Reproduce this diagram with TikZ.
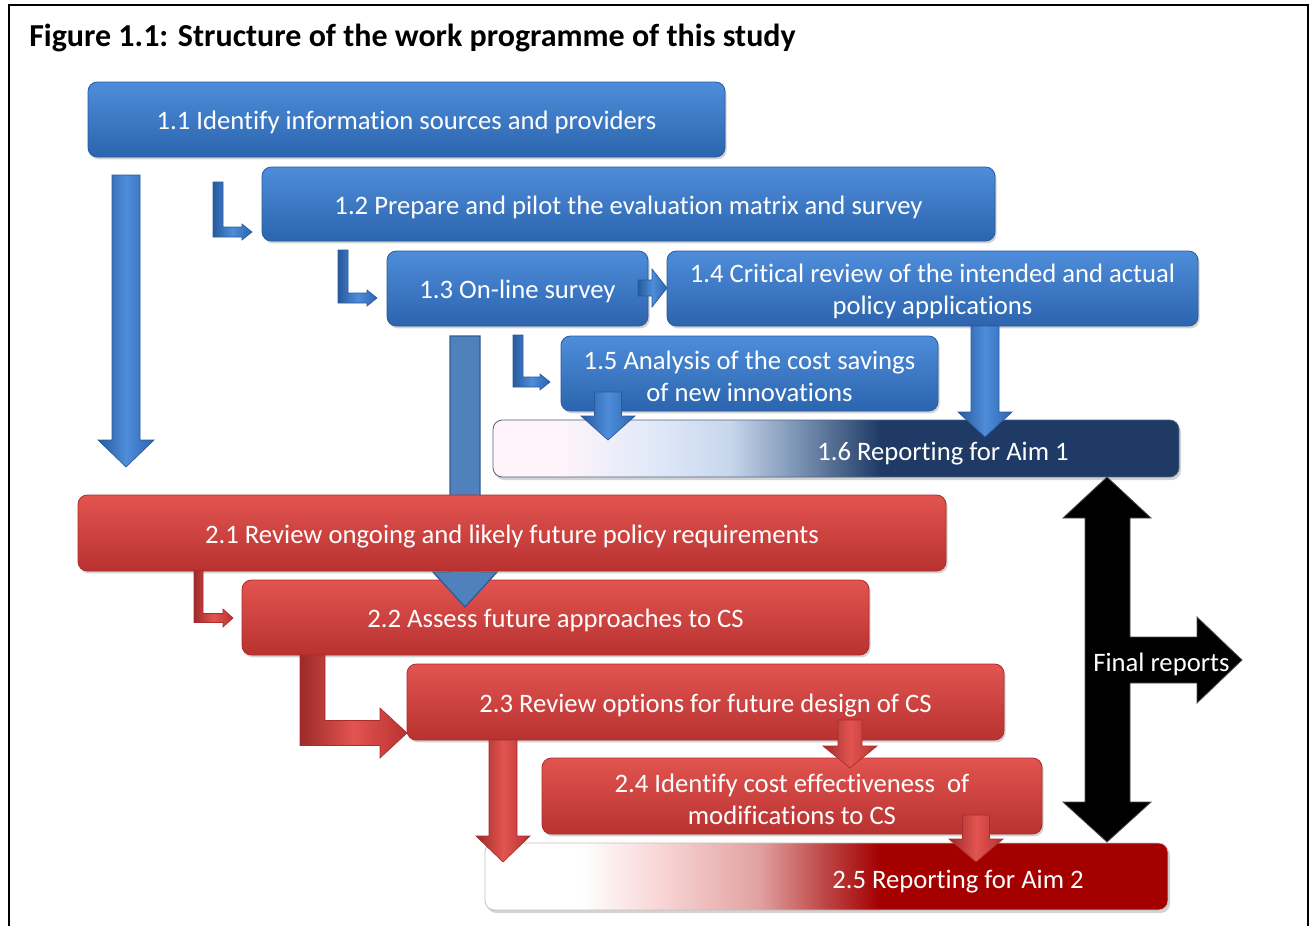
\documentclass[tikz,border=0pt]{standalone}
\usepackage{fontspec}
\setmainfont{Carlito}[Ligatures=NoCommon]
\usetikzlibrary{fit,shadows}
\definecolor{bluetop}{RGB}{78,141,218}
\definecolor{bluebot}{RGB}{44,100,174}
\definecolor{blueline}{RGB}{40,90,160}
\definecolor{redtop}{RGB}{226,84,80}
\definecolor{redbot}{RGB}{184,50,48}
\definecolor{redline}{RGB}{170,45,45}
\definecolor{navy}{RGB}{31,58,101}
\definecolor{darkred}{RGB}{164,0,0}
\tikzset{
  bbox/.style={rounded corners=7, top color=bluetop, bottom color=bluebot, draw=blueline, line width=0.6,
    drop shadow={shadow xshift=1.2pt, shadow yshift=-1.8pt, opacity=0.35}, inner sep=0},
  rbox/.style={bbox, top color=redtop, bottom color=redbot, draw=redline},
  barrow/.style={left color=bluebot!90!black, right color=bluebot, middle color=bluetop, draw=blueline, line width=0.5},
  rarrow/.style={left color=redbot!85!black, right color=redbot, middle color=redtop, draw=redline, line width=0.5},
  txt/.style={text=white, font=\fontsize{20}{24}\selectfont, align=center, inner sep=0, yshift=-2.4pt},
}
% block arrows (y grows downwards)
\newcommand\blkdown[7]{% x, ytop, ytip, shaft half, head half, head len, style
  \path[#7] (#1-#4,#2) -- (#1+#4,#2) -- (#1+#4,#3-#6) -- (#1+#5,#3-#6) -- (#1,#3)
    -- (#1-#5,#3-#6) -- (#1-#4,#3-#6) -- cycle;}
\newcommand\blkL[8]{% xleft, ytop, width, ycenter, xtip, head half, head len, style
  \path[#8] (#1,#2) -- (#1+#3,#2) -- (#1+#3,#4-#3/2) -- (#5-#7,#4-#3/2) -- (#5-#7,#4-#6)
    -- (#5,#4) -- (#5-#7,#4+#6) -- (#5-#7,#4+#3/2) -- (#1,#4+#3/2) -- cycle;}
\begin{document}
\begin{tikzpicture}[x=0.75pt,y=-0.75pt]
\useasboundingbox (0,0) rectangle (1313,926);
% frame
\draw[line width=1.8] (9,926) -- (9,5) -- (1308,5) -- (1308,926);
\node[anchor=west, font=\fontsize{24}{28}\selectfont\bfseries, inner sep=0] (title) at (29,38)
  {Figure 1.1: Structure of the work programme of this study};

% ---------- Aim 1 (blue) ----------
\node[bbox, fit={(88,82) (725,157)}] (b11) {};
\node[txt] (t11) at (b11.center) {1.1 Identify information sources and providers};
\node[bbox, fit={(262,167) (995,241)}] (b12) {};
\node[txt] (t12) at (b12.center) {1.2 Prepare and pilot the evaluation matrix and survey};
\node[bbox, fit={(387,251) (648,326)}] (b13) {};
\node[txt] (t13) at (b13.center) {1.3 On-line survey};
\node[bbox, fit={(667,251) (1198,326)}] (b14) {};
\node[txt] (t14) at (b14.center) {1.4 Critical review of the intended and actual\\policy applications};
\node[bbox, fit={(561,336) (938,411)}] (b15) {};
\node[txt] (t15) at (b15.center) {1.5 Analysis of the cost savings\\of new innovations};

% 1.6 gradient box
\fill[gray, opacity=0.35, rounded corners=7] (495,423) rectangle (1181,480);
\begin{scope}
  \clip[rounded corners=7] (493,420) rectangle (1179,477);
  \fill[color={rgb,255:red,255;green,244;blue,250}] (493,420) rectangle (560,477);
  \fill[left color={rgb,255:red,255;green,244;blue,250}, right color={rgb,255:red,222;green,232;blue,248}] (559.5,420) rectangle (660,477);
  \fill[left color={rgb,255:red,222;green,232;blue,248}, right color={rgb,255:red,200;green,214;blue,236}] (659.5,420) rectangle (730,477);
  \fill[left color={rgb,255:red,200;green,214;blue,236}, right color={rgb,255:red,120;green,145;blue,178}] (729.5,420) rectangle (800,477);
  \fill[left color={rgb,255:red,120;green,145;blue,178}, right color=navy] (799.5,420) rectangle (880,477);
  \fill[navy] (879.5,420) rectangle (1179,477);
\end{scope}
\node[inner sep=0, fit={(493,420) (1179,477)}, draw=navy!80, rounded corners=7, line width=0.6] (b16) {};
\node[txt] (t16) at (943,450) {1.6 Reporting for Aim 1};

% blue arrows
\blkdown{126}{175}{467}{14}{28}{27}{barrow}
\blkL{213}{182}{10}{232}{252}{8}{10}{barrow}
\blkL{338}{250}{10}{298}{377}{8}{10}{barrow}
\blkL{513}{335}{10}{382}{550}{8}{10}{barrow}
\path[barrow] (638,280) -- (652,280) -- (652,269) -- (667,288) -- (652,307) -- (652,296) -- (638,296) -- cycle;
\blkdown{608}{392}{440}{13.5}{27}{24}{barrow}
\blkdown{985}{326}{437}{14}{27}{25}{barrow}

% ---------- Aim 2 (red) ----------
\node[rbox, fit={(242,580) (869,655)}] (b22) {};
% long blue arrow from 1.3 to 2.2
\path[fill={rgb,255:red,79;green,129;blue,189}, draw={rgb,255:red,50;green,90;blue,150}, line width=1]
  (450,336) -- (480,336) -- (480,572) -- (497,572) -- (465,607) -- (433,572) -- (450,572) -- cycle;
\node[txt] (t22) at (b22.center) {2.2 Assess future approaches to CS};
\node[rbox, fit={(78,495) (946,571)}] (b21) {};
\node[txt] (t21) at (b21.center) {2.1 Review ongoing and likely future policy requirements};
\node[rbox, fit={(407,664) (1004,740)}] (b23) {};
\node[txt] (t23) at (b23.center) {2.3 Review options for future design of CS};
\node[rbox, fit={(542,758) (1042,834)}] (b24) {};
\node[txt] (t24) at (b24.center) {2.4 Identify cost effectiveness \ of\\modifications to CS};

% 2.5 gradient box
\fill[gray, opacity=0.35, rounded corners=7] (487,846) rectangle (1170,913);
\begin{scope}
  \clip[rounded corners=7] (485,843) rectangle (1168,910);
  \fill[white] (485,843) rectangle (580,910);
  \fill[left color=white, right color={rgb,255:red,248;green,214;blue,214}] (579.5,843) rectangle (660,910);
  \fill[left color={rgb,255:red,248;green,214;blue,214}, right color={rgb,255:red,226;green,160;blue,160}] (659.5,843) rectangle (760,910);
  \fill[left color={rgb,255:red,226;green,160;blue,160}, right color={rgb,255:red,190;green,70;blue,70}] (759.5,843) rectangle (825,910);
  \fill[left color={rgb,255:red,190;green,70;blue,70}, right color=darkred] (824.5,843) rectangle (880,910);
  \fill[darkred] (879.5,843) rectangle (1168,910);
\end{scope}
\node[inner sep=0, fit={(485,843) (1168,910)}, draw={rgb,255:red,200;green,190;blue,190}, rounded corners=7, line width=0.6] (b25) {};
\node[txt] (t25) at (958,878) {2.5 Reporting for Aim 2};

% red arrows
\blkL{194}{571}{9}{618}{233}{9}{10}{rarrow}
\blkL{300}{655}{25}{733}{407}{25}{27}{rarrow}
\blkdown{503}{740}{862}{14}{27}{26}{rarrow}
\blkdown{850}{720}{768}{12}{27}{22}{rarrow}
\blkdown{976}{815}{862}{13.5}{27}{23}{rarrow}

% final reports arrow
\path[fill=black, draw=black!70, line width=0.6]
  (1107,477) -- (1151,518) -- (1130,518) -- (1130,637) -- (1197,637) -- (1197,617) -- (1242,660)
  -- (1197,703) -- (1197,683) -- (1130,683) -- (1130,802) -- (1151,802) -- (1107,842)
  -- (1063,802) -- (1085,802) -- (1085,518) -- (1063,518) -- cycle;
\node[txt, anchor=west] (fr) at (1093,661) {Final reports};
\end{tikzpicture}
\end{document}
